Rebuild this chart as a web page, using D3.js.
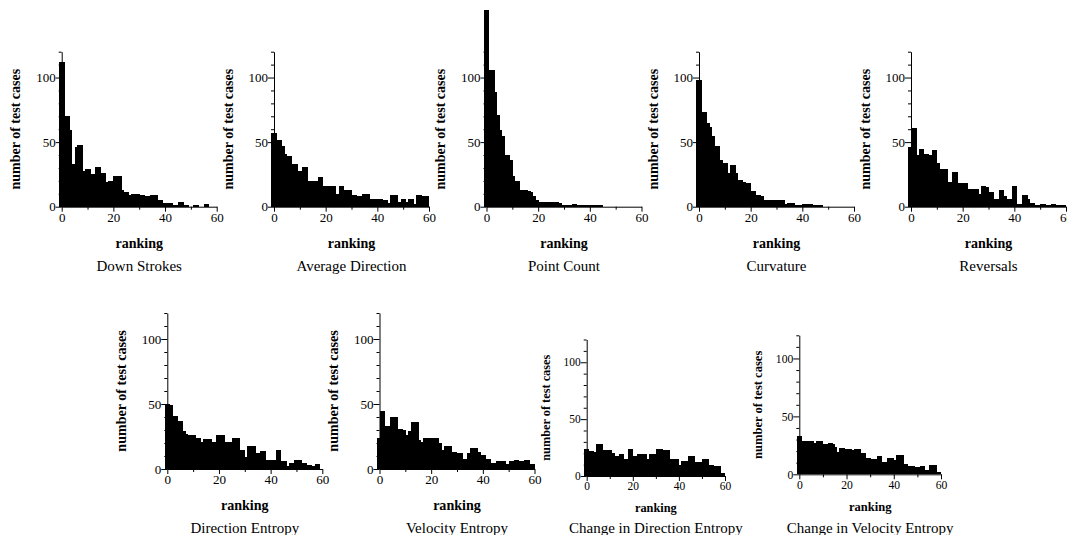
<!DOCTYPE html>
<html>
<head>
<meta charset="utf-8">
<script src="https://cdn.jsdelivr.net/npm/d3@7"></script>
<style>
  body { margin: 0; background: #fff; }
  svg { display: block; }
  text { font-family: "Liberation Serif", "Times New Roman", serif; fill: #000; }
</style>
</head>
<body>
<div id="chart"></div>
<script>
// bin start positions on the ranking axis (each bar covers [s, s+1])
const binStarts = [-1, 0, 1, 2, 3, 4, 5, 6, 7, 8, 9, 10, 11, 12, 13, 14, 15, 16, 17, 18, 19,
    20, 21, 22, 23, 24, 25, 26, 27, 28, 29, 30, 31, 32, 33, 34, 35, 36, 37, 38, 39,
    40, 41, 42, 43, 44, 45, 46, 47, 48, 49, 50, 51, 52, 53, 54, 55, 56, 57, 58, 59];

const xTicks = [0, 10, 20, 30, 40, 50, 60];
const xTickLabels = [0, 20, 40, 60];
const yTicks = [0, 10, 20, 30, 40, 50, 60, 70, 80, 90, 100, 110, 120];
const yTickLabels = [0, 50, 100];

const downStrokes = [112,112,70,70,59,33,46,48,48,28, 29,29,25,25,31,31,26,26,19,20,
    20,24,24,24,13,11,11,9,10,10, 10,9,9,8,8,9,9,9,5,5, 3,3,3,3,1,1,4,4,1,1, 0,0,1,1,0,0,2,2,0,0,0];
const averageDirection = [57,57,52,52,47,41,39,39,33,33, 28,28,31,31,20,20,20,20,23,23,
    16,16,16,16,16,10,16,16,13,13, 13,9,9,8,8,10,10,10,6,6, 6,6,6,5,5,3,9,9,9,4, 6,6,4,6,6,2,9,9,8,8,8];
const pointCount = [152,152,106,106,89,71,59,55,40,40, 36,24,20,20,13,13,13,12,11,8,
    5,4,4,4,4,4,4,4,4,3, 1,1,1,1,2,2,1,1,1,1, 1,1,1,1,1,1,0,0,0,0, 0,0,0,0,0,0,0,0,0,0,0];
const curvature = [98,98,73,73,65,62,55,47,47,36, 34,34,26,32,32,26,21,21,19,18,
    18,12,12,9,9,8,5,5,5,5, 5,5,5,5,2,3,3,3,1,1, 1,2,2,2,2,1,1,1,1,0, 0,0,0,0,0,0,0,0,0,0,0];
const reversals = [46,61,61,40,45,45,41,41,40,44, 44,34,29,29,29,19,19,27,27,18,
    18,18,18,14,14,14,14,10,16,16, 15,11,11,6,6,13,13,8,6,6, 16,16,2,2,9,9,6,3,3,1, 1,2,2,1,1,2,2,1,1,1,1];
const directionEntropy = [50,50,49,41,41,37,37,29,27,26, 26,26,24,24,21,23,23,23,21,21,
    26,26,26,21,21,21,24,24,24,15, 15,9,18,18,18,12,12,14,14,7, 7,7,7,15,15,6,6,2,5,5, 7,7,7,5,5,3,3,2,4,4,0];
const velocityEntropy = [24,45,45,33,33,40,40,40,31,31, 30,26,29,36,36,36,22,21,24,24,
    24,24,24,24,20,15,18,18,18,13, 13,12,12,8,8,12,16,16,16,13, 11,11,8,8,5,5,6,6,6,6, 4,6,6,7,7,6,6,7,7,4,4];
const changeDirectionEntropy = [24,24,22,22,21,28,28,28,23,23, 23,23,20,18,18,19,19,15,15,24,
    24,18,18,19,19,19,19,15,19,19, 19,24,24,24,23,23,23,15,15,15, 15,10,13,13,13,18,18,18,12,12, 12,15,15,15,10,10,9,9,9,3,3];
const changeVelocityEntropy = [33,33,29,29,29,29,29,27,29,29, 29,26,26,27,27,26,24,19,23,23,
    22,22,22,21,22,22,22,18,18,14, 14,13,13,13,16,16,11,11,14,14, 14,12,17,17,17,9,9,7,7,7, 6,6,7,7,4,4,8,8,8,2,2];

const titles = ["Down Strokes", "Average Direction", "Point Count", "Curvature", "Reversals",
    "Direction Entropy", "Velocity Entropy", "Change in Direction Entropy", "Change in Velocity Entropy"];
const series = [downStrokes, averageDirection, pointCount, curvature, reversals,
    directionEntropy, velocityEntropy, changeDirectionEntropy, changeVelocityEntropy];

// panel placement: pixel of ranking 0 / count 0, plot width & height, title baseline
const layout = [
    { x0: 61.7, y0: 206.7, w: 155, h: 155, ty: 271 },
    { x0: 274, y0: 206.7, w: 155, h: 155, ty: 271 },
    { x0: 486.5, y0: 206.7, w: 155, h: 155, ty: 271 },
    { x0: 699, y0: 206.7, w: 155, h: 155, ty: 271 },
    { x0: 911, y0: 206.7, w: 155, h: 155, ty: 271 },
    { x0: 167.3, y0: 469, w: 155, h: 156, ty: 533 },
    { x0: 379.5, y0: 469, w: 155, h: 156, ty: 533 },
    { x0: 586.7, y0: 476, w: 138.3, h: 136.5, ty: 533 },
    { x0: 799.3, y0: 474.3, w: 141.7, h: 139, ty: 533 }
];

const svg = d3.select("#chart").append("svg")
    .attr("width", 1067)
    .attr("height", 535);

series.forEach((values, i) => drawPanel(values, titles[i], layout[i]));

function drawPanel(values, title, p) {
    const k = p.h / 155;
    const x = d3.scaleLinear().domain([0, 60]).range([p.x0, p.x0 + p.w]);
    const y = d3.scaleLinear().domain([0, 120]).range([p.y0, p.y0 - p.h]);
    const g = svg.append("g");

    g.append("g")
        .selectAll("rect")
        .data(values)
        .enter()
        .append("rect")
        .attr("x", (d, i) => x(binStarts[i]))
        .attr("width", (d, i) => x(binStarts[i] + 1) - x(binStarts[i]) + 0.4)
        .attr("y", d => y(d))
        .attr("height", d => y(0) - y(d))
        .attr("fill", "#000")
        .attr("shape-rendering", "crispEdges");

    const xAxis = g.append("g")
        .attr("transform", `translate(0,${p.y0})`)
        .call(d3.axisBottom(x)
            .tickValues(xTicks)
            .tickSize(3)
            .tickSizeOuter(0)
            .tickPadding(3)
            .tickFormat(d => xTickLabels.includes(d) ? d : ""));
    xAxis.selectAll(".tick")
        .filter(d => xTickLabels.includes(d))
        .select("line").attr("y2", 5);

    const yAxis = g.append("g")
        .attr("transform", `translate(${p.x0},0)`)
        .call(d3.axisLeft(y)
            .tickValues(yTicks)
            .tickSize(3)
            .tickSizeOuter(0)
            .tickPadding(3)
            .tickFormat(d => yTickLabels.includes(d) ? d : ""));
    yAxis.selectAll(".tick")
        .filter(d => yTickLabels.includes(d))
        .select("line").attr("x2", -6);

    g.selectAll(".domain").attr("stroke", "#000").attr("stroke-width", 1);
    g.selectAll(".tick line").attr("stroke", "#000");
    g.selectAll(".tick text")
        .style("font-family", "'Liberation Serif', 'Times New Roman', serif")
        .style("font-size", (13 * k) + "px")
        .attr("fill", "#000");

    g.append("text")
        .attr("transform", `translate(${p.x0 - 46 * k},${p.y0 - p.h / 2}) rotate(-90)`)
        .attr("text-anchor", "middle")
        .attr("dominant-baseline", "central")
        .style("font-size", (14 * k) + "px")
        .style("font-weight", "bold")
        .text("number of test cases");

    g.append("text")
        .attr("x", p.x0 + p.w / 2)
        .attr("y", p.y0 + 41 * k)
        .attr("text-anchor", "middle")
        .style("font-size", (14 * k) + "px")
        .style("font-weight", "bold")
        .text("ranking");

    g.append("text")
        .attr("x", p.x0 + p.w / 2)
        .attr("y", p.ty)
        .attr("text-anchor", "middle")
        .style("font-size", "15px")
        .text(title);
}
</script>
</body>
</html>
